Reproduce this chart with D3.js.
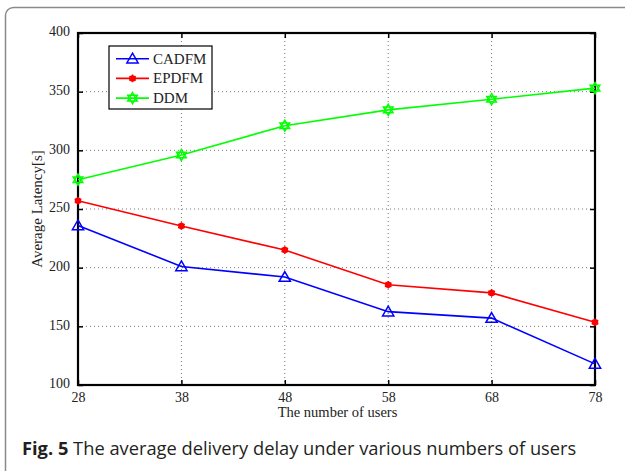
<!DOCTYPE html>
<html>
<head>
<meta charset="utf-8">
<script src="https://d3js.org/d3.v7.min.js"></script>
<style>
  body { margin: 0; background: #fff; }
  svg { display: block; }
</style>
</head>
<body>
<script>
// chart data
var users = [28, 38, 48, 58, 68, 78];
var cadfm = [236, 201, 192, 162.5, 157, 118];
var epdfm = [257, 235.5, 215, 185.5, 178.5, 153.5];
var ddm = [275, 296, 321, 334.5, 343.5, 353];
var seriesNames = ['CADFM', 'EPDFM', 'DDM'];
var yTicks = [100, 150, 200, 250, 300, 350, 400];

var W = 625, H = 471;
var margin = { left: 78, top: 33, right: 30, bottom: 86 };
var w = W - margin.left - margin.right,
    h = H - margin.top - margin.bottom;

var SERIF = '"Liberation Serif", "Times New Roman", serif';

var svg = d3.select('body').append('svg')
  .attr('width', W)
  .attr('height', H);

// outer figure frame (runs off the right and bottom edges)
svg.append('rect')
  .attr('x', 5.5)
  .attr('y', 7.5)
  .attr('width', 700)
  .attr('height', 600)
  .attr('rx', 8)
  .attr('fill', 'none')
  .attr('stroke', '#8a8a8a')
  .attr('stroke-width', 1.5);

var x = d3.scaleLinear().domain([28, 78]).range([0, w]);
var y = d3.scaleLinear().domain([100, 400]).range([h, 0]);

var g = svg.append('g')
  .attr('transform', 'translate(' + margin.left + ',' + margin.top + ')');

// dotted grid
g.append('g').selectAll('line.gx')
    .data(users.slice(1, -1))
  .enter().append('line')
    .attr('x1', function(d) { return x(d); })
    .attr('x2', function(d) { return x(d); })
    .attr('y1', 0)
    .attr('y2', h);
g.append('g').selectAll('line.gy')
    .data(yTicks.slice(1, -1))
  .enter().append('line')
    .attr('x1', 0)
    .attr('x2', w)
    .attr('y1', function(d) { return y(d); })
    .attr('y2', function(d) { return y(d); });
g.selectAll('line')
  .attr('stroke', '#777')
  .attr('stroke-width', 1)
  .attr('stroke-dasharray', '1,3');

// axes with inward ticks on all four sides
var TICK = 5;
var xb = g.append('g').attr('transform', 'translate(0,' + h + ')')
  .call(d3.axisBottom(x).tickValues(users).tickSizeInner(-TICK).tickSizeOuter(0).tickPadding(7));
var xt = g.append('g')
  .call(d3.axisTop(x).tickValues(users).tickSizeInner(-TICK).tickSizeOuter(0).tickFormat(''));
var yl = g.append('g')
  .call(d3.axisLeft(y).tickValues(yTicks).tickSizeInner(-TICK).tickSizeOuter(0).tickPadding(8));
var yr = g.append('g').attr('transform', 'translate(' + w + ',0)')
  .call(d3.axisRight(y).tickValues(yTicks).tickSizeInner(-TICK).tickSizeOuter(0).tickFormat(''));

[xb, xt, yl, yr].forEach(function(a) {
  a.select('.domain').remove();
  a.selectAll('.tick line').attr('stroke', '#000').attr('stroke-width', 1.5);
  a.selectAll('text')
    .attr('fill', '#222')
    .style('font-family', SERIF)
    .style('font-size', '14px');
});
xb.selectAll('text').attr('dy', '0.71em');
yl.selectAll('text').attr('dy', '0.2em');

g.append('rect')
  .attr('width', w)
  .attr('height', h)
  .attr('fill', 'none')
  .attr('stroke', '#000')
  .attr('stroke-width', 2.2);

// series
var colors = ['#0000ff', '#ff0000', '#00ff00'];
var values = [cadfm, epdfm, ddm];

var line = d3.line()
  .x(function(d, i) { return x(users[i]); })
  .y(function(d) { return y(d); });

function drawMarker(sel, k) {
  var c = colors[k];
  if (k === 0) {
    sel.append('path')
      .attr('d', d3.symbol().type(d3.symbolTriangle).size(55))
      .attr('transform', 'translate(0,1)')
      .attr('fill', 'none')
      .attr('stroke', c)
      .attr('stroke-width', 1.5);
  } else if (k === 1) {
    sel.append('circle').attr('r', 3.2).attr('fill', c);
    sel.append('path')
      .attr('d', d3.symbol().type(d3.symbolAsterisk).size(40))
      .attr('fill', 'none')
      .attr('stroke', c)
      .attr('stroke-width', 1.5);
  } else {
    [0, 180].forEach(function(r) {
      sel.append('path')
        .attr('d', d3.symbol().type(d3.symbolTriangle).size(40))
        .attr('transform', 'rotate(' + r + ')')
        .attr('fill', 'none')
        .attr('stroke', c)
        .attr('stroke-width', 1.5);
    });
  }
}

values.forEach(function(vals, k) {
  g.append('path')
    .datum(vals)
    .attr('d', line)
    .attr('fill', 'none')
    .attr('stroke', colors[k])
    .attr('stroke-width', 1.6);
  g.append('g').selectAll('g')
      .data(vals)
    .enter().append('g')
      .attr('transform', function(d, i) { return 'translate(' + x(users[i]) + ',' + y(d) + ')'; })
      .each(function() { drawMarker(d3.select(this), k); });
});

// legend
var lg = g.append('g').attr('transform', 'translate(31,13)');
lg.append('rect')
  .attr('width', 103)
  .attr('height', 63)
  .attr('fill', '#fff')
  .attr('stroke', '#000')
  .attr('stroke-width', 1.2);
seriesNames.forEach(function(name, k) {
  var ly = 12.7 + k * 19.7;
  lg.append('line')
    .attr('x1', 7).attr('x2', 40)
    .attr('y1', ly).attr('y2', ly)
    .attr('stroke', colors[k])
    .attr('stroke-width', 1.6);
  drawMarker(lg.append('g').attr('transform', 'translate(23.5,' + ly + ')'), k);
  lg.append('text')
    .attr('x', 44)
    .attr('y', ly + 5)
    .attr('fill', '#222')
    .style('font-family', SERIF)
    .style('font-size', '15px')
    .text(name);
});

// axis titles
g.append('text')
  .attr('x', w / 2 + 1)
  .attr('y', h + 32)
  .attr('text-anchor', 'middle')
  .attr('fill', '#222')
  .style('font-family', SERIF)
  .style('font-size', '14.5px')
  .text('The number of users');

g.append('text')
  .attr('transform', 'translate(-36,' + (h / 2) + ') rotate(-90)')
  .attr('text-anchor', 'middle')
  .attr('fill', '#222')
  .style('font-family', SERIF)
  .style('font-size', '15px')
  .text('Average Latency[s]');

// caption
var cap = svg.append('text')
  .attr('x', 22)
  .attr('y', 455)
  .attr('fill', '#231f20')
  .style('font-family', '"Open Sans", "Noto Sans", sans-serif')
  .style('font-size', '18.3px');
cap.append('tspan').style('font-weight', 'bold').text('Fig. 5');
cap.append('tspan').text(' The average delivery delay under various numbers of users');
</script>
</body>
</html>
